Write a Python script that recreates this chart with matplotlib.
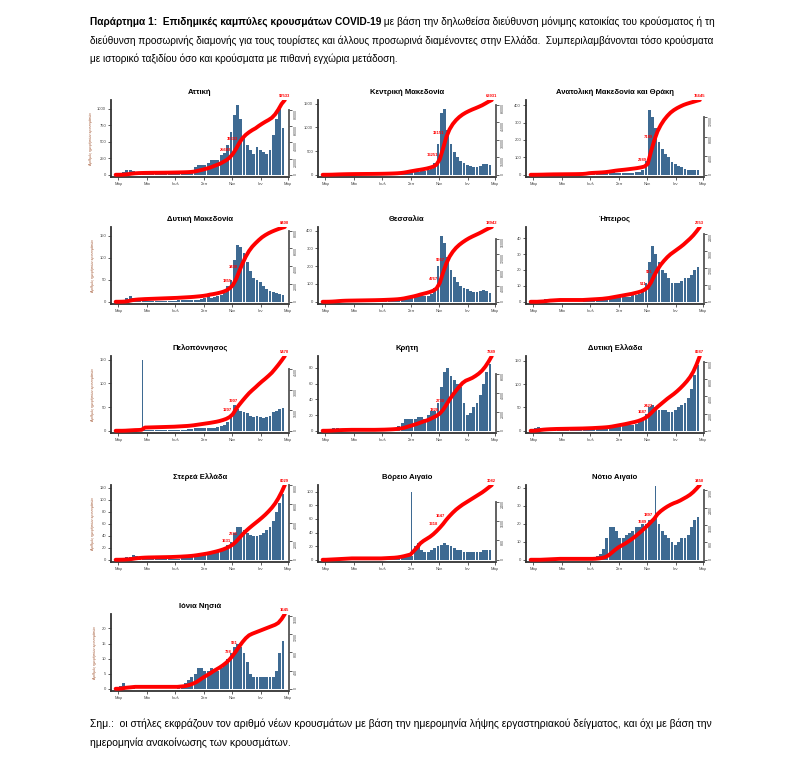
import matplotlib
matplotlib.use('Agg')
import matplotlib.pyplot as plt
import matplotlib.dates as mdates
import matplotlib.ticker as mticker
import numpy as np
import pandas as pd

plt.rcParams['font.family'] = ['Liberation Sans', 'DejaVu Sans']

# weekly blocks, week starting on each date; values = new cases per day
weeks = pd.date_range('2020-02-24', periods=52, freq='7D')

attiki = [2, 10, 40, 70, 75, 60, 35, 20, 15, 10,
          8, 6, 5, 5, 6, 8, 10, 12, 12, 15,
          15, 20, 30, 60, 110, 140, 140, 150, 180, 220,
          230, 220, 300, 330, 450, 650, 900, 1050, 850, 600,
          450, 380, 320, 420, 380, 350, 320, 380, 600, 850,
          1000, 700]
kentriki = [0, 5, 10, 15, 15, 12, 10, 8, 6, 5,
            4, 4, 3, 3, 3, 4, 5, 6, 8, 10,
            12, 15, 20, 30, 50, 70, 80, 70, 70, 60,
            70, 80, 100, 130, 250, 650, 1300, 1400, 950, 650,
            480, 380, 300, 240, 200, 180, 160, 170, 180, 220,
            230, 200]
anatoliki = [0, 1, 2, 2, 3, 2, 2, 1, 1, 1,
             1, 1, 1, 1, 2, 3, 8, 15, 8, 5,
             5, 6, 8, 12, 15, 15, 12, 10, 10, 12,
             12, 12, 15, 18, 25, 80, 370, 330, 270, 190,
             150, 120, 100, 75, 60, 50, 45, 35, 30, 28,
             30, 25]
dytiki_mak = [0, 1, 3, 8, 12, 8, 5, 3, 3, 2,
              2, 2, 2, 2, 2, 2, 2, 2, 2, 3,
              3, 3, 3, 4, 5, 5, 6, 8, 12, 8,
              10, 12, 15, 20, 35, 50, 95, 130, 125, 110,
              90, 70, 55, 50, 45, 35, 30, 25, 22, 20,
              18, 15]
thessalia = [0, 2, 5, 8, 10, 8, 5, 3, 2, 2,
             2, 2, 2, 2, 2, 2, 3, 3, 4, 5,
             5, 6, 8, 12, 18, 25, 25, 25, 30, 35,
             30, 30, 35, 45, 80, 200, 370, 330, 250, 180,
             140, 110, 90, 80, 70, 60, 55, 55, 60, 65,
             60, 50]
ipeiros = [0, 0, 1, 1, 2, 2, 1, 1, 1, 0,
           0, 0, 0, 0, 0, 0, 1, 1, 1, 1,
           1, 1, 2, 2, 3, 3, 3, 3, 3, 3,
           3, 4, 4, 5, 8, 12, 25, 35, 30, 25,
           20, 18, 15, 12, 12, 12, 13, 15, 15, 17,
           20, 22]
peloponnisos = [0, 0, 1, 2, 2, 2, 1, 2, 2, 1,
                1, 1, 1, 1, 1, 1, 1, 1, 2, 2,
                2, 2, 3, 4, 5, 5, 5, 5, 5, 6,
                6, 8, 10, 12, 18, 30, 55, 45, 42, 40,
                38, 32, 30, 32, 30, 28, 30, 32, 40, 42,
                45, 48]
kriti = [0, 1, 2, 3, 3, 2, 1, 1, 1, 0,
         0, 0, 0, 0, 0, 0, 1, 1, 1, 2,
         2, 3, 4, 6, 10, 15, 15, 15, 15, 18,
         18, 15, 20, 25, 25, 35, 55, 75, 80, 70,
         65, 60, 55, 35, 20, 22, 30, 35, 45, 60,
         75, 85]
dytiki_ell = [0, 5, 8, 6, 4, 3, 2, 2, 1, 1,
              1, 1, 1, 1, 1, 1, 2, 2, 2, 3,
              3, 3, 4, 5, 8, 10, 10, 10, 10, 12,
              12, 12, 15, 20, 25, 35, 50, 55, 50, 45,
              45, 45, 40, 40, 45, 50, 55, 60, 70, 90,
              120, 140]
sterea = [0, 1, 2, 4, 5, 8, 6, 4, 3, 2,
          1, 1, 1, 1, 1, 1, 1, 2, 2, 2,
          3, 3, 4, 5, 7, 8, 8, 8, 10, 12,
          12, 14, 16, 20, 25, 30, 45, 55, 55, 50,
          45, 42, 40, 40, 42, 45, 50, 55, 65, 80,
          95, 110]
voreio = [0, 1, 1, 1, 1, 1, 1, 1, 1, 0,
          0, 0, 0, 0, 0, 0, 0, 0, 1, 1,
          1, 1, 2, 3, 4, 5, 5, 6, 20, 25,
          15, 12, 12, 15, 18, 20, 22, 25, 22, 20,
          18, 15, 14, 12, 12, 12, 12, 12, 12, 14,
          15, 15]
notio = [0, 0, 0, 1, 1, 1, 1, 1, 1, 0,
         0, 0, 0, 0, 0, 0, 0, 0, 0, 1,
         2, 3, 6, 12, 18, 18, 16, 12, 12, 14,
         15, 16, 18, 18, 20, 20, 22, 22, 24, 20,
         16, 14, 12, 10, 8, 10, 12, 12, 14, 18,
         22, 24]
ionia = [0, 1, 2, 1, 1, 1, 0, 0, 0, 0,
         0, 0, 0, 0, 0, 0, 0, 0, 0, 1,
         1, 2, 3, 4, 5, 7, 7, 6, 6, 7,
         6, 6, 7, 8, 10, 12, 14, 15, 14, 12,
         9, 5, 4, 4, 4, 4, 4, 4, 4, 6,
         12, 16]

# single days that stick out of the weekly blocks
pelop_spikes = [('2020-04-21', 150)]
voreio_spikes = [('2020-09-03', 100)]
notio_spikes = [('2020-11-19', 41)]

titles = ['Αττική', 'Κεντρική Μακεδονία', 'Ανατολική Μακεδονία και Θράκη',
          'Δυτική Μακεδονία', 'Θεσσαλία', 'Ήπειρος',
          'Πελοπόννησος', 'Κρήτη', 'Δυτική Ελλάδα',
          'Στερεά Ελλάδα', 'Βόρειο Αιγαίο', 'Νότιο Αιγαίο',
          'Ιόνια Νησιά']
series = [attiki, kentriki, anatoliki, dytiki_mak, thessalia, ipeiros,
          peloponnisos, kriti, dytiki_ell, sterea, voreio, notio, ionia]
spikes = [[], [], [], [], [], [], pelop_spikes, [], [], [], voreio_spikes, notio_spikes, []]
left_ticks = [[0, 250, 500, 750, 1000], [0, 500, 1000, 1500], [0, 100, 200, 300, 400],
              [0, 50, 100, 150], [0, 100, 200, 300, 400], [0, 10, 20, 30, 40],
              [0, 50, 100, 150], [0, 20, 40, 60, 80], [0, 50, 100, 150],
              [0, 20, 40, 60, 80, 100, 120], [0, 20, 40, 60, 80, 100], [0, 10, 20, 30, 40],
              [0, 5, 10, 15, 20]]
left_top = [1130, 1580, 430, 170, 420, 47, 158, 95, 160, 125, 110, 41.5, 24.8]

month_names = {1: 'Ιαν', 3: 'Μαρ', 5: 'Μαι', 7: 'Ιουλ', 9: 'Σεπ', 11: 'Νοε'}

header = [[('Παράρτημα 1:  Επιδημικές καμπύλες κρουσμάτων COVID-19', 'bold'),
           (' με βάση την δηλωθείσα διεύθυνση μόνιμης κατοικίας του κρούσματος ή τη', 'normal')],
          [('διεύθυνση προσωρινής διαμονής για τους τουρίστες και άλλους προσωρινά διαμένοντες στην Ελλάδα.  Συμπεριλαμβάνονται τόσο κρούσματα', 'normal')],
          [('με ιστορικό ταξιδίου όσο και κρούσματα με πιθανή εγχώρια μετάδοση.', 'normal')]]
footer = [[('Σημ.:  οι στήλες εκφράζουν τον αριθμό νέων κρουσμάτων με βάση την ημερομηνία λήψης εργαστηριακού δείγματος, και όχι με βάση την', 'normal')],
          [('ημερομηνία ανακοίνωσης των κρουσμάτων.', 'normal')]]

bar_color = '#3e6a92'
W, H = 803, 781


def month_fmt(x, pos):
    return month_names.get(mdates.num2date(x).month, '')


def draw_panel(ax, title, vals, days, yticks, ytop, ylabel):
    vals = np.array(vals, dtype=float)
    per_week = vals * 7
    ax.bar(weeks, vals, width=6.3, align='edge', color=bar_color, linewidth=0)
    for day, v in days:
        d = pd.Timestamp(day)
        ax.bar(d, v, width=2.4, color=bar_color, linewidth=0)
        per_week[(d - weeks[0]).days // 7] += v
    cum = np.concatenate([[0], np.cumsum(per_week)])
    line_x = pd.date_range(weeks[0], periods=len(cum), freq='7D')

    ax.set_ylim(-0.03 * ytop, ytop)
    ax.set_yticks(yticks)
    ax.set_xlim(pd.Timestamp('2020-02-14'), pd.Timestamp('2021-03-03'))
    ax.xaxis.set_major_locator(mdates.MonthLocator(bymonth=[1, 3, 5, 7, 9, 11]))
    ax.xaxis.set_major_formatter(mticker.FuncFormatter(month_fmt))
    ax.tick_params(labelsize=3, length=2, width=0.6, pad=1.5, colors='#444444')
    for s in ['top', 'right']:
        ax.spines[s].set_visible(False)
    for s in ['left', 'bottom']:
        ax.spines[s].set_color('#333333')
        ax.spines[s].set_linewidth(1.3)
    ax.set_title(title, fontsize=5.5, fontweight='bold', pad=4)
    if ylabel:
        ax.set_ylabel('Αριθμός ημερήσιων κρουσμάτων', fontsize=2.6, color='#a0522d', labelpad=3)

    ax2 = ax.twinx()
    total = cum[-1]
    ax2.plot(line_x, cum, color='red', lw=2.8, solid_capstyle='round')
    ax2.set_ylim(-0.03 * total, total)
    ax2.yaxis.set_major_locator(mticker.MaxNLocator(5))
    ticks = [t for t in ax2.get_yticks() if 0 <= t <= total]
    ax2.set_yticks(ticks)
    ax2.spines['right'].set_bounds(0, ticks[-1])
    ax2.spines['right'].set_color('#555555')
    ax2.spines['right'].set_linewidth(1.3)
    for s in ['top', 'left', 'bottom']:
        ax2.spines[s].set_visible(False)
    ax2.tick_params(axis='y', labelsize=2.6, length=2, width=0.6, pad=1.5,
                    labelrotation=90, colors='#444444')
    # red value labels on the cumulative line
    for k in [36, 38]:
        ax2.annotate(str(int(round(cum[k]))), (line_x[k], cum[k]), xytext=(-1, 2),
                     textcoords='offset points', ha='right', fontsize=3, color='red',
                     fontweight='bold')
    ax2.annotate(str(int(round(cum[-1]))), (line_x[-1], cum[-1]), xytext=(0, 2.5),
                 textcoords='offset points', ha='center', fontsize=3, color='red',
                 fontweight='bold')


def text_line(fig, parts, x0, y, size, x1=None):
    # writes the pieces one after another; if x1 is given the font is scaled so the line ends there
    r = fig.canvas.get_renderer()
    texts = [fig.text(0, 1 - y / H, s, fontsize=size, fontweight=w, va='center') for s, w in parts]
    if x1 is not None:
        width = sum(t.get_window_extent(r).width for t in texts)
        size = size * (x1 - x0) / width
        for t in texts:
            t.set_fontsize(size)
    x = x0
    for t in texts:
        t.set_x(x / W)
        x += t.get_window_extent(r).width
    return size


fig = plt.figure(figsize=(W / 100, H / 100), dpi=100)

col_left = [111, 318, 526]
row_bottom = [177, 304, 433, 562, 691]
for i in range(len(titles)):
    r, c = divmod(i, 3)
    ax = fig.add_axes([col_left[c] / W, 1 - row_bottom[r] / H, 178 / W, 77 / H])
    draw_panel(ax, titles[i], series[i], spikes[i], left_ticks[i], left_top[i], c == 0)

size = text_line(fig, header[0], 90, 22, 7, x1=714)
size = text_line(fig, header[1], 90, 41, 7, x1=714)
text_line(fig, header[2], 90, 59, size)
size = text_line(fig, footer[0], 90, 724, 7, x1=714)
text_line(fig, footer[1], 90, 743, size)

fig.savefig('out.png', dpi=100)
